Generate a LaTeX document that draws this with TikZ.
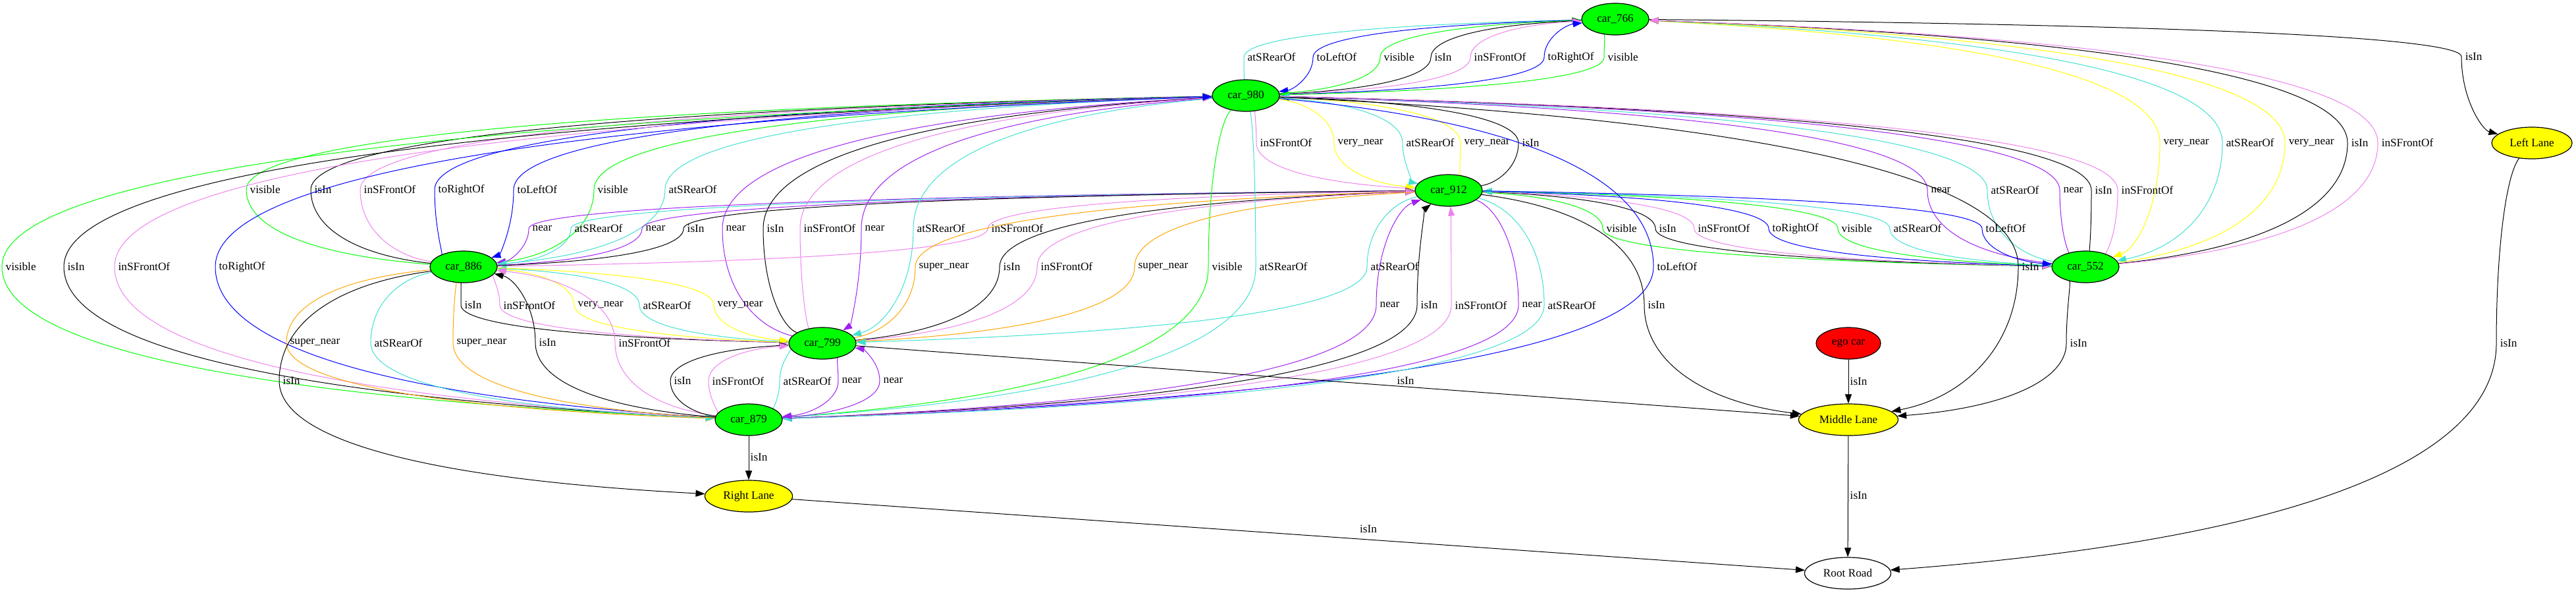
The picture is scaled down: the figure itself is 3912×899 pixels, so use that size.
\documentclass[tikz,border=0pt]{standalone}
\usepackage{fontspec}
\setmainfont{Liberation Serif}
\usetikzlibrary{shapes.geometric,arrows.meta,calc}
\definecolor{gvgreen}{HTML}{00FF00}
\definecolor{gvturq}{HTML}{40E0D0}
\definecolor{gvviolet}{HTML}{EE82EE}
\definecolor{gvpurple}{HTML}{A020F0}
\definecolor{gvorange}{HTML}{FFA500}
\definecolor{gvyellow}{HTML}{FFFF00}
\definecolor{gvblue}{HTML}{0000FF}
\definecolor{gvred}{HTML}{FF0000}
\pgfdeclarelayer{edges}
\pgfsetlayers{edges,main}
\def\gvfont{\fontsize{4.9}{5.5}\selectfont}
\tikzset{
  relline/.style={line width=0.1mm,-{Triangle[length=1.4mm,width=1mm]}},
  rel isIn/.style={relline,draw=black},
  rel near/.style={relline,draw=gvpurple},
  rel super_near/.style={relline,draw=gvorange},
  rel very_near/.style={relline,draw=gvyellow},
  rel visible/.style={relline,draw=gvgreen},
  rel inSFrontOf/.style={relline,draw=gvviolet},
  rel atSRearOf/.style={relline,draw=gvturq},
  rel toLeftOf/.style={relline,draw=gvblue},
  rel toRightOf/.style={relline,draw=gvblue},
  lbl/.style={anchor=west,inner sep=0pt,font=\gvfont},
  gvnode/.style={ellipse,draw=black,line width=0.12mm,inner sep=0pt,font=\gvfont,minimum height=4.8mm},
  carnode/.style={gvnode,fill=gvgreen,minimum width=10.2mm},
  lanenode/.style={gvnode,fill=gvyellow},
}
\def\drawrel#1#2#3#4#5{%
  \draw[rel #1] let \p1=(#2), \p2=(#3), \p3=(#4-5,#5) in
    (#2) .. controls ({\x1+0.7*((\x3)-(\x1))},{\y1+0.15*((\y3)-(\y1))}) and (\x3,{0.5*((\y1)+(\y3))}) .. (\p3)
    .. controls (\x3,{0.5*((\y2)+(\y3))}) and ({\x2+0.7*((\x3)-(\x2))},{\y2+0.15*((\y3)-(\y2))}) .. (#3);
  \node[lbl] at (#4,#5) {\detokenize{#1}};}

\begin{document}
\begin{tikzpicture}[x=0.01cm,y=-0.01cm]
\useasboundingbox (0,0) rectangle (3912,899);
\node[carnode] (car766) at (2453,29) {car\_766};
\node[carnode] (car980) at (1892,145) {car\_980};
\node[carnode] (car912) at (2200,289) {car\_912};
\node[lanenode,minimum width=12.2mm] (leftlane) at (3845,217) {Left Lane};
\node[carnode] (car886) at (704,405) {car\_886};
\node[carnode] (car552) at (3167,405) {car\_552};
\node[carnode] (car799) at (1249,521) {car\_799};
\node[gvnode,fill=gvred,minimum width=9.8mm] (egocar) at (2807,521) {ego car};
\node[carnode] (car879) at (1137,637) {car\_879};
\node[lanenode,minimum width=15.1mm] (midlane) at (2807,637) {Middle Lane};
\node[lanenode,minimum width=13.3mm] (rightlane) at (1137,753) {Right Lane};
\node[gvnode,fill=white,minimum width=13.1mm] (rootroad) at (2806,870) {Root Road};
\begin{pgfonlayer}{edges}
\drawrel{atSRearOf}{car766}{car980}{1894}{87}
\drawrel{toLeftOf}{car766}{car980}{1999}{87}
\drawrel{visible}{car980}{car766}{2101}{87}
\drawrel{isIn}{car980}{car766}{2178}{87}
\drawrel{inSFrontOf}{car980}{car766}{2238}{87}
\drawrel{toRightOf}{car980}{car766}{2350}{87}
\drawrel{visible}{car766}{car980}{2441}{87}
\drawrel{isIn}{car766}{leftlane}{3743}{86}
\drawrel{inSFrontOf}{car912}{car980}{1913}{217}
\drawrel{very_near}{car980}{car912}{2031}{217}
\drawrel{atSRearOf}{car980}{car912}{2135}{217}
\drawrel{very_near}{car912}{car980}{2223}{217}
\drawrel{isIn}{car912}{car980}{2311}{217}
\drawrel{very_near}{car766}{car552}{3285}{217}
\drawrel{atSRearOf}{car766}{car552}{3380}{217}
\drawrel{very_near}{car552}{car766}{3475}{217}
\drawrel{isIn}{car552}{car766}{3570}{217}
\drawrel{inSFrontOf}{car552}{car766}{3616}{217}
\drawrel{visible}{car886}{car980}{379}{288}
\drawrel{isIn}{car886}{car980}{477}{288}
\drawrel{inSFrontOf}{car886}{car980}{552}{288}
\drawrel{toRightOf}{car886}{car980}{665}{288}
\drawrel{toLeftOf}{car980}{car886}{785}{288}
\drawrel{visible}{car980}{car886}{907}{288}
\drawrel{atSRearOf}{car980}{car886}{1015}{288}
\drawrel{near}{car552}{car980}{2932}{289}
\drawrel{atSRearOf}{car552}{car980}{3023}{289}
\drawrel{near}{car980}{car552}{3133}{289}
\drawrel{isIn}{car980}{car552}{3181}{289}
\drawrel{inSFrontOf}{car980}{car552}{3221}{289}
\drawrel{near}{car912}{car886}{808}{347}
\drawrel{atSRearOf}{car912}{car886}{872}{347}
\drawrel{near}{car886}{car912}{980}{347}
\drawrel{isIn}{car886}{car912}{1043}{347}
\drawrel{near}{car799}{car980}{1102}{347}
\drawrel{isIn}{car799}{car980}{1164}{347}
\drawrel{inSFrontOf}{car799}{car980}{1220}{347}
\drawrel{near}{car980}{car799}{1313}{347}
\drawrel{atSRearOf}{car980}{car799}{1392}{347}
\drawrel{inSFrontOf}{car886}{car912}{1505}{347}
\drawrel{visible}{car912}{car552}{2439}{347}
\drawrel{isIn}{car912}{car552}{2519}{347}
\drawrel{inSFrontOf}{car912}{car552}{2578}{347}
\drawrel{toRightOf}{car552}{car912}{2691}{347}
\drawrel{visible}{car552}{car912}{2796}{347}
\drawrel{atSRearOf}{car552}{car912}{2875}{347}
\drawrel{toLeftOf}{car912}{car552}{3015}{347}
\drawrel{visible}{car879}{car980}{8}{405}
\drawrel{isIn}{car879}{car980}{102}{405}
\drawrel{inSFrontOf}{car879}{car980}{179}{405}
\drawrel{toRightOf}{car879}{car980}{332}{405}
\drawrel{super_near}{car799}{car912}{1395}{405}
\drawrel{isIn}{car799}{car912}{1523}{405}
\drawrel{inSFrontOf}{car799}{car912}{1580}{405}
\drawrel{super_near}{car912}{car799}{1728}{405}
\drawrel{visible}{car980}{car879}{1840}{405}
\drawrel{atSRearOf}{car980}{car879}{1912}{405}
\drawrel{atSRearOf}{car912}{car799}{2081}{405}
\drawrel{toLeftOf}{car980}{car879}{2516}{405}
\drawrel{isIn}{car980}{midlane}{3070}{405}
\drawrel{isIn}{car886}{car799}{705}{463}
\drawrel{inSFrontOf}{car886}{car799}{764}{463}
\drawrel{very_near}{car799}{car886}{877}{463}
\drawrel{atSRearOf}{car799}{car886}{976}{463}
\drawrel{very_near}{car886}{car799}{1089}{463}
\drawrel{near}{car879}{car912}{2095}{463}
\drawrel{isIn}{car879}{car912}{2157}{463}
\drawrel{inSFrontOf}{car879}{car912}{2209}{463}
\drawrel{near}{car912}{car879}{2311}{463}
\drawrel{atSRearOf}{car912}{car879}{2350}{463}
\drawrel{isIn}{car912}{midlane}{2502}{463}
\drawrel{super_near}{car886}{car879}{440}{520}
\drawrel{atSRearOf}{car886}{car879}{568}{520}
\drawrel{super_near}{car879}{car886}{693}{520}
\drawrel{isIn}{car879}{car886}{818}{520}
\drawrel{inSFrontOf}{car879}{car886}{939}{520}
\drawrel{isIn}{leftlane}{rootroad}{3796}{521}
\drawrel{isIn}{car552}{midlane}{3143}{521}
\drawrel{isIn}{car886}{rightlane}{429}{578}
\drawrel{isIn}{car879}{car799}{1023}{578}
\drawrel{inSFrontOf}{car879}{car799}{1081}{578}
\drawrel{atSRearOf}{car799}{car879}{1189}{578}
\drawrel{near}{car799}{car879}{1278}{578}
\drawrel{near}{car879}{car799}{1341}{578}
\draw[rel isIn] (car799) -- (midlane);
\node[lbl] at (2121,578) {isIn};
\draw[rel isIn] (egocar) -- (midlane);
\node[lbl] at (2809,579) {isIn};
\draw[rel isIn] (car879) -- (rightlane);
\node[lbl] at (1139,694) {isIn};
\draw[rel isIn] (midlane) -- (rootroad);
\node[lbl] at (2809,752) {isIn};
\draw[rel isIn] (rightlane) -- (rootroad);
\node[lbl,anchor=center] at (2078,803) {isIn};
\end{pgfonlayer}
\end{tikzpicture}
\end{document}
